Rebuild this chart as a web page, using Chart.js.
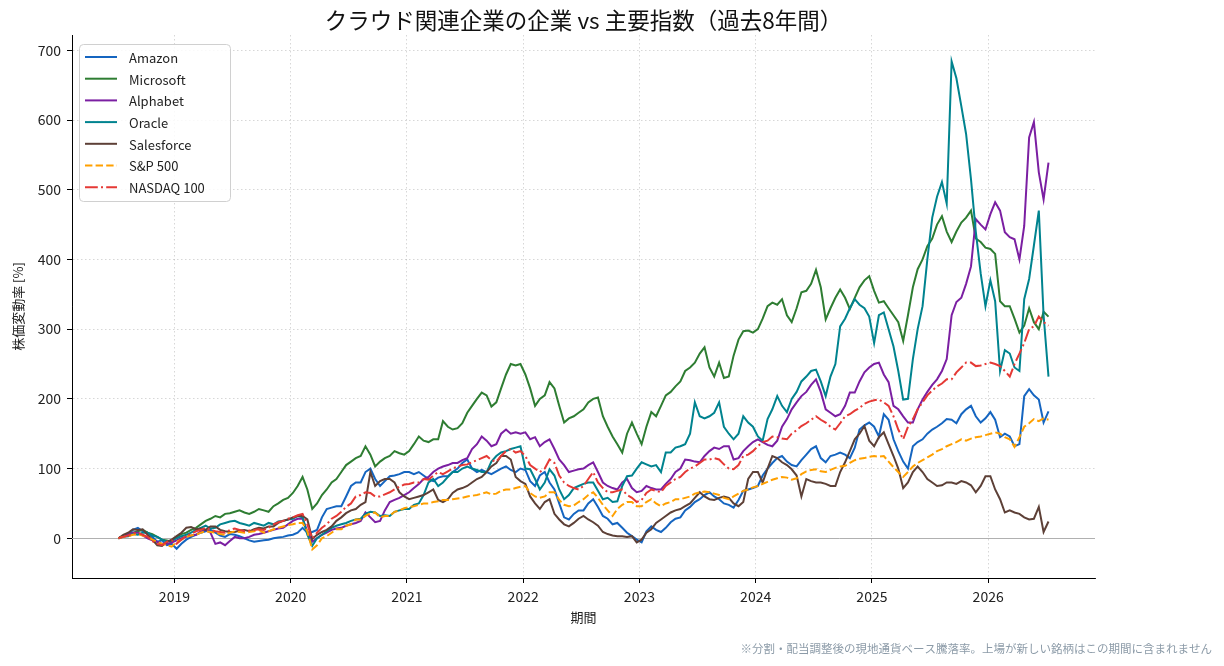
<!DOCTYPE html>
<html><head><meta charset="utf-8">
<script src="https://cdn.jsdelivr.net/npm/chart.js@4.4.1/dist/chart.umd.min.js"></script>
<style>html,body{margin:0;padding:0;background:#fff;}#wrap{width:1224px;height:666px;}</style>
</head><body><div id="wrap"><canvas id="c" width="1224" height="666"></canvas></div>
<script>
// Sampling: two readings per month (8th and 23rd), last month only the 8th
const months = [
 '2018-07','2018-08','2018-09','2018-10','2018-11','2018-12',
 '2019-01','2019-02','2019-03','2019-04','2019-05','2019-06','2019-07','2019-08','2019-09','2019-10','2019-11','2019-12',
 '2020-01','2020-02','2020-03','2020-04','2020-05','2020-06','2020-07','2020-08','2020-09','2020-10','2020-11','2020-12',
 '2021-01','2021-02','2021-03','2021-04','2021-05','2021-06','2021-07','2021-08','2021-09','2021-10','2021-11','2021-12',
 '2022-01','2022-02','2022-03','2022-04','2022-05','2022-06','2022-07','2022-08','2022-09','2022-10','2022-11','2022-12',
 '2023-01','2023-02','2023-03','2023-04','2023-05','2023-06','2023-07','2023-08','2023-09','2023-10','2023-11','2023-12',
 '2024-01','2024-02','2024-03','2024-04','2024-05','2024-06','2024-07','2024-08','2024-09','2024-10','2024-11','2024-12',
 '2025-01','2025-02','2025-03','2025-04','2025-05','2025-06','2025-07','2025-08','2025-09','2025-10','2025-11','2025-12',
 '2026-01','2026-02','2026-03','2026-04','2026-05','2026-06','2026-07'
];
const sampleDays = ['08','23'];

const amazon = [
 0,3, 5,12, 15,10, 8,2, -5,-3, -10,-8, -15,-8, -2,2, 5,8, 10,12, 8,4, 2,6,
 5,3, 0,-3, -5,-4, -3,-2, 0,1, 2,4, 5,8, 15,8, 9,12, 30,42, 44,46, 46,60,
 75,80, 80,95, 100,85, 75,82, 89,90, 92,95, 95,92, 95,90, 85,82, 87,89, 89,95, 100,108,
 113,100, 95,98, 95,92, 96,100, 103,98, 95,100, 98,82, 75,90, 95,80, 70,50, 30,27, 35,40,
 40,50, 56,45, 32,28, 20,22, 15,8, 3,-2, -6,10, 17,12, 9,15, 23,28, 30,40, 45,52,
 56,62, 66,60, 56,50, 48,44, 55,68, 70,72, 75,90, 100,108, 115,118, 110,105, 103,112, 120,128,
 132,115, 109,118, 120,123, 120,115, 130,156, 162,166, 160,146, 178,170, 142,125, 110,100, 132,138, 142,150,
 156,160, 165,171, 170,165, 178,185, 190,175, 166,172, 181,170, 145,150, 146,132, 135,204, 214,205, 199,166,
 182];
const microsoft = [
 0,3, 5,8, 10,12, 8,6, 2,-2, -3,-5, 2,6, 8,12, 15,20, 25,28, 32,30, 35,36,
 38,40, 37,35, 38,42, 40,38, 46,50, 55,58, 65,75, 88,70, 42,50, 62,70, 80,85, 95,105,
 110,115, 118,132, 120,103, 110,115, 118,125, 122,120, 125,135, 146,140, 138,142, 142,168, 160,156, 158,165,
 180,190, 200,209, 205,189, 195,215, 235,250, 248,250, 235,215, 190,200, 205,224, 215,190, 166,172, 175,180,
 185,195, 200,202, 175,160, 146,135, 123,150, 166,150, 135,160, 181,175, 190,205, 210,218, 225,240, 245,252,
 265,274, 245,232, 252,230, 232,262, 285,297, 298,295, 300,315, 333,338, 335,343, 320,310, 330,353, 355,365,
 385,360, 314,330, 345,357, 345,329, 345,360, 370,376, 355,338, 340,330, 320,310, 283,320, 360,386, 400,419,
 430,450, 462,440, 425,440, 453,460, 470,430, 425,417, 415,408, 340,333, 333,315, 295,305, 330,310, 300,325,
 318];
const alphabet = [
 0,3, 5,8, 8,4, 0,-3, -5,-8, -8,-6, -3,0, 2,4, 5,10, 12,8, -8,-6, -10,-4,
 2,0, 0,2, 5,6, 8,10, 12,14, 15,20, 25,28, 28,10, -5,0, 5,8, 12,14, 15,18,
 20,22, 25,37, 30,23, 25,40, 52,55, 58,62, 66,72, 78,85, 88,95, 100,103, 105,108, 108,112,
 115,128, 135,146, 140,132, 135,150, 156,150, 152,150, 152,142, 145,132, 138,142, 128,113, 105,95, 97,99,
 100,105, 109,95, 80,75, 72,70, 80,85, 72,66, 68,75, 72,70, 70,78, 85,95, 100,113, 112,110,
 109,118, 125,130, 128,132, 132,113, 115,125, 132,138, 142,138, 134,132, 140,160, 171,185, 195,204, 210,220,
 228,210, 185,180, 175,178, 190,209, 209,225, 238,245, 250,252, 235,224, 190,185, 175,166, 166,185, 199,210,
 220,228, 240,257, 320,339, 345,365, 390,458, 450,443, 465,482, 470,439, 432,429, 400,448, 575,597, 525,486,
 539];
const oracle = [
 0,2, 3,6, 5,8, 8,4, 2,-2, -5,-3, 0,3, 5,8, 12,15, 18,14, 15,20, 22,24,
 25,22, 20,18, 22,20, 18,22, 20,24, 25,27, 28,32, 30,5, -11,0, 5,10, 15,18, 20,22,
 25,27, 28,35, 38,37, 32,33, 32,38, 40,42, 42,48, 50,62, 80,85, 75,80, 88,95, 95,100,
 103,100, 98,95, 95,110, 118,123, 125,128, 130,132, 100,99, 85,70, 80,99, 90,70, 56,62, 72,75,
 78,80, 80,68, 56,58, 52,53, 75,89, 90,100, 109,106, 103,105, 95,123, 123,130, 132,135, 150,195,
 175,172, 175,180, 195,160, 150,142, 150,175, 166,160, 146,140, 171,185, 204,190, 181,200, 210,225, 232,240,
 242,225, 204,232, 250,304, 315,330, 343,335, 330,318, 280,320, 324,300, 275,240, 199,200, 257,300, 333,400,
 460,490, 511,480, 684,660, 620,580, 515,440, 380,333, 370,340, 240,270, 265,245, 240,343, 372,420, 470,320,
 232];
const salesforce = [
 0,5, 8,13, 12,13, 5,-2, -10,-11, -5,-2, 3,8, 15,16, 13,14, 12,17, 17,12, 10,9,
 9,11, 12,10, 13,15, 14,17, 17,22, 25,27, 30,32, 32,27, -1,5, 9,12, 17,25, 30,36,
 40,42, 48,52, 95,75, 82,85, 85,80, 66,60, 56,58, 60,62, 66,70, 55,52, 56,65, 70,72,
 75,80, 85,88, 95,103, 108,118, 118,113, 88,82, 78,60, 50,42, 52,56, 35,27, 20,17, 22,28,
 32,27, 23,18, 9,6, 4,3, 3,2, 3,-6, -2,8, 13,22, 27,32, 37,40, 42,46, 50,58,
 66,60, 56,55, 58,60, 58,50, 46,52, 85,95, 95,80, 100,118, 115,109, 105,99, 90,60, 85,82,
 80,80, 78,75, 75,95, 109,125, 142,150, 161,140, 132,145, 152,135, 118,100, 72,80, 95,103, 95,85,
 80,75, 76,80, 80,78, 82,80, 76,66, 75,89, 89,70, 56,37, 40,37, 35,30, 27,28, 45,9,
 24];
const sp500 = [
 0,2, 3,5, 6,4, 2,-2, -5,-8, -10,-12, -5,-2, 2,4, 5,8, 10,9, 8,6, 5,8,
 10,9, 8,9, 10,12, 8,10, 13,15, 17,19, 20,22, 22,10, -16,-10, 0,3, 8,13, 13,18,
 20,27, 27,32, 36,37, 30,32, 32,38, 40,43, 45,46, 48,50, 50,52, 53,55, 55,56, 57,58,
 60,61, 62,64, 66,63, 64,68, 70,70, 72,74, 75,65, 60,58, 60,66, 66,55, 48,46, 47,52,
 56,62, 66,58, 48,40, 32,42, 48,52, 52,46, 46,52, 56,50, 46,50, 52,56, 56,58, 60,64,
 66,67, 66,64, 62,58, 56,60, 64,68, 70,73, 75,78, 81,84, 86,88, 87,84, 86,92, 96,98,
 99,96, 95,98, 101,103, 104,108, 112,114, 115,117, 118,117, 118,110, 102,95, 88,95, 103,108, 112,116,
 120,125, 128,132, 135,138, 142,140, 143,145, 146,148, 150,152, 150,145, 142,131, 145,160, 165,171, 168,172,
 170];
const nasdaq100 = [
 0,2, 4,7, 8,5, 2,-4, -8,-10, -5,-3, -8,-2, 4,6, 10,12, 15,12, 10,9, 8,12,
 14,12, 10,11, 12,13, 12,15, 20,23, 25,28, 30,33, 35,20, 0,8, 15,20, 28,32, 38,45,
 50,60, 62,66, 65,60, 60,63, 66,70, 74,77, 78,80, 80,85, 84,90, 95,92, 96,100, 103,105,
 106,109, 112,115, 118,112, 110,118, 125,128, 123,125, 118,105, 100,95, 100,113, 108,90, 80,75, 72,70,
 75,85, 95,80, 72,66, 66,68, 70,62, 58,52, 55,65, 70,68, 66,75, 80,85, 88,95, 100,103,
 108,113, 113,115, 113,106, 100,99, 105,118, 120,125, 132,138, 140,146, 145,143, 142,150, 155,161, 165,170,
 175,170, 166,160, 156,165, 175,178, 183,187, 193,196, 198,199, 195,190, 175,156, 142,160, 171,185, 195,205,
 212,218, 222,228, 228,238, 245,252, 252,247, 248,250, 252,250, 247,240, 232,250, 265,280, 300,304, 318,310,
 305];
const yearTicks = [2019,2020,2021,2022,2023,2024,2025,2026];
const valueTicks = [0,100,200,300,400,500,600,700];

const seriesNames = ['Amazon','Microsoft','Alphabet','Oracle','Salesforce','S&P 500','NASDAQ 100'];
const seriesValues = [amazon, microsoft, alphabet, oracle, salesforce, sp500, nasdaq100];
const seriesColors = ['#1565c0','#2e7d32','#7b1fa2','#00838f','#5d4037','#ffa000','#e53935'];
const seriesDash = [[],[],[],[],[],[7.4,3.2],[12.8,3.2,2,3.2]];

const dates = months.flatMap((m, i) => i < months.length - 1 ? sampleDays.map(d => m + '-' + d) : [m + '-' + sampleDays[0]]);
seriesValues.forEach((s, i) => { if (s.length !== dates.length) throw new Error(seriesNames[i] + ' length ' + s.length + ' vs ' + dates.length); });

const FONT = '"Noto Sans CJK JP", "Noto Sans", sans-serif';
Chart.defaults.font.family = FONT;
Chart.defaults.color = '#222';

function dateToYear(s){ const p = s.split('-'); return +p[0] + (+p[1] - 1)/12 + (+p[2] - 1)/365; }
const xs = dates.map(dateToYear);

const datasets = seriesNames.map((n,i)=>({
  label: n,
  data: seriesValues[i].map((v,j)=>({x: xs[j], y: v})),
  borderColor: seriesColors[i],
  backgroundColor: seriesColors[i],
  borderWidth: 2,
  borderDash: seriesDash[i],
  pointRadius: 0,
  tension: 0,
  fill: false,
  order: seriesNames.length - i
}));

const span = xs[xs.length-1] - xs[0];
const xMin = xs[0] - span*0.05;
const xMax = xs[xs.length-1] + span*0.05;

const decor = {
  id: 'decor',
  beforeDatasetsDraw(chart){
    const {ctx, chartArea:a, scales:{y}} = chart;
    const py = Math.round(y.getPixelForValue(0)) + 0.5;
    ctx.save();
    ctx.strokeStyle = '#b0b0b0'; ctx.lineWidth = 1;
    ctx.beginPath(); ctx.moveTo(a.left, py); ctx.lineTo(a.right, py); ctx.stroke();
    ctx.restore();
  },
  afterDraw(chart){
    const {ctx, chartArea:a} = chart;
    ctx.save();
    ctx.fillStyle = '#111'; ctx.textAlign = 'center'; ctx.textBaseline = 'middle';
    ctx.font = '22.5px ' + FONT;
    ctx.fillText('クラウド関連企業の企業 vs 主要指数（過去8年間）', (a.left + a.right)/2, 20);
    ctx.font = '13px ' + FONT; ctx.fillStyle = '#222';
    ctx.fillText('期間', (a.left + a.right)/2, 617);
    ctx.save(); ctx.translate(18, (a.top + a.bottom)/2); ctx.rotate(-Math.PI/2);
    ctx.fillText('株価変動率 [%]', 0, 0); ctx.restore();
    ctx.font = '11.5px ' + FONT; ctx.fillStyle = '#8c9ba8'; ctx.textAlign = 'right';
    ctx.fillText('※分割・配当調整後の現地通貨ベース騰落率。上場が新しい銘柄はこの期間に含まれません', 1212, 649);
    const lx = a.left + 7, ly = a.top + 9, lw = 151, lh = 157;
    ctx.beginPath();
    if (ctx.roundRect) ctx.roundRect(lx+0.5, ly+0.5, lw, lh, 4); else ctx.rect(lx+0.5, ly+0.5, lw, lh);
    ctx.fillStyle = 'rgba(255,255,255,0.85)'; ctx.fill();
    ctx.strokeStyle = '#d0d0d0'; ctx.lineWidth = 1; ctx.stroke();
    ctx.textAlign = 'left'; ctx.textBaseline = 'middle'; ctx.font = '13px ' + FONT;
    chart.data.datasets.forEach((ds, i) => {
      const yy = ly + 13 + i * 21.7;
      ctx.save();
      ctx.strokeStyle = ds.borderColor; ctx.lineWidth = 2; ctx.setLineDash(ds.borderDash || []);
      ctx.beginPath(); ctx.moveTo(lx + 6, yy); ctx.lineTo(lx + 38, yy); ctx.stroke();
      ctx.restore();
      ctx.fillStyle = '#222';
      ctx.fillText(ds.label, lx + 50, yy + 1);
    });
    ctx.restore();
  }
};

new Chart(document.getElementById('c'), {
  type: 'line',
  data: { datasets },
  options: {
    responsive: false, animation: false, devicePixelRatio: 1,
    layout: { padding: { left: 0, right: 129, top: 35, bottom: 0 } },
    plugins: { legend: { display: false }, title: { display: false }, tooltip: { enabled: false } },
    scales: {
      x: {
        type: 'linear', min: xMin, max: xMax,
        afterBuildTicks: s => { s.ticks = yearTicks.map(v => ({value: v})); },
        afterFit: s => { s.height = 88; },
        ticks: { callback: v => String(v), font: { size: 14 }, color: '#222', padding: 5, maxRotation: 0, autoSkip: false },
        grid: { color: 'rgba(0,0,0,0.2)', lineWidth: 0.8, tickLength: 5, tickColor: '#000', tickWidth: 1 },
        border: { display: true, color: '#000', width: 1, dash: [1.5, 2.5] }
      },
      y: {
        type: 'linear', min: -57, max: 722,
        afterBuildTicks: s => { s.ticks = valueTicks.map(v => ({value: v})); },
        afterFit: s => { s.width = 72; },
        ticks: { callback: v => String(v), font: { size: 14 }, color: '#222', padding: 6, autoSkip: false },
        grid: { color: 'rgba(0,0,0,0.2)', lineWidth: 0.8, tickLength: 5, tickColor: '#000', tickWidth: 1 },
        border: { display: true, color: '#000', width: 1, dash: [1.5, 2.5] }
      }
    }
  },
  plugins: [decor]
});
</script></body></html>
